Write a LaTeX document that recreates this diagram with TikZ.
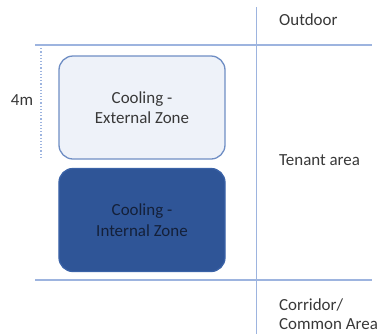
\documentclass[tikz,border=0pt]{standalone}
\usepackage{fontspec}
\setmainfont{Carlito}
\begin{document}
\begin{tikzpicture}[x=1bp,y=-1bp,
  gridline/.style={draw=lineblue, line width=1.1bp},
  zonebox/.style={rounded corners=14bp, line width=1.3bp, minimum width=166bp, minimum height=103bp, align=center, font=\fontsize{17}{20.5}\selectfont, inner sep=0pt},
  label/.style={font=\fontsize{17}{19.5}\selectfont, text=labelgray, anchor=west, align=left, inner sep=0pt}]
\definecolor{lineblue}{HTML}{9DB4DF}
\definecolor{labelgray}{HTML}{383838}
\definecolor{lightfill}{HTML}{EEF2F9}
\definecolor{lightedge}{HTML}{6F8EC4}
\definecolor{darkfill}{HTML}{2F5597}
\definecolor{darkedge}{HTML}{3A62A7}
\definecolor{darktext}{HTML}{142039}
\useasboundingbox (0,0) rectangle (379,334);

% zone boundaries
\coordinate (vtop) at (256.5,7);
\coordinate (vbot) at (256.5,334);
\coordinate (htl) at (35,45);
\coordinate (htr) at (372,45);
\coordinate (hbl) at (35,280);
\coordinate (hbr) at (372,280);
\draw[gridline] (vtop) -- (vbot);
\draw[gridline] (htl) -- (htr);
\draw[gridline] (hbl) -- (hbr);

% depth of the external zone
\coordinate (dtop) at (41,45);
\coordinate (dbot) at (41,159);
\draw[draw=lineblue, line width=1.2bp, dotted] (dtop) -- (dbot);
\node[font=\fontsize{17}{19}\selectfont, text=labelgray, inner sep=0pt] (depth) at (22,100) {4m};

% cooling zones
\node[zonebox, draw=lightedge, fill=lightfill, text=labelgray] (ext) at (142,107.5) {Cooling -\\External Zone};
\node[zonebox, draw=darkedge, fill=darkfill, text=darktext] (int) at (142,220) {Cooling -\\Internal Zone};

% area labels
\node[label] (outdoor) at (279,20) {Outdoor};
\node[label] (tenant) at (279,160.5) {Tenant area};
\node[label] (corridor) at (279,314) {Corridor/\\Common Area};
\end{tikzpicture}
\end{document}
